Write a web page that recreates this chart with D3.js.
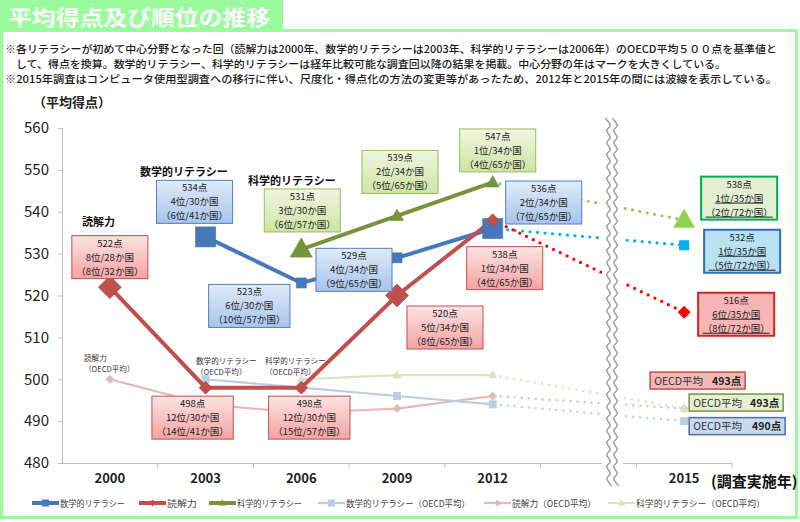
<!DOCTYPE html>
<html>
<head>
<meta charset="utf-8">
<script src="https://cdn.jsdelivr.net/npm/d3@7"></script>
<style>
body { margin: 0; background: #fff; }
svg { display: block; }
text { font-family: "Noto Sans CJK JP", "Noto Sans", sans-serif; }
</style>
</head>
<body>
<div id="vis"></div>
<script>
const width = 800;
const height = 522;

// categories on the x axis ("gap" is the empty slot behind the wavy break)
const categories = ["2000", "2003", "2006", "2009", "2012", "gap", "2015"];
const years = ["2000", "2003", "2006", "2009", "2012", "2015"];
const yTicks = [480, 490, 500, 510, 520, 530, 540, 550, 560];

const readingScores = [522, 498, 498, 520, 538, 516];
const mathScores = [null, 534, 523, 529, 536, 532];
const scienceScores = [null, null, 531, 539, 547, 538];

const readingOecd = [500, 494, 492, 493, 496, 493];
const mathOecd = [null, 500, 498, 496, 494, 490];
const scienceOecd = [null, null, 500, 501, 501, 493];

const readingRanks = ["8位/28か国", "12位/30か国", "12位/30か国", "5位/34か国", "1位/34か国", "6位/35か国"];
const readingRanksAll = ["（8位/32か国）", "（14位/41か国）", "（15位/57か国）", "（8位/65か国）", "（4位/65か国）", "（8位/72か国）"];
const mathRanks = [null, "4位/30か国", "6位/30か国", "4位/34か国", "2位/34か国", "1位/35か国"];
const mathRanksAll = [null, "（6位/41か国）", "（10位/57か国）", "（9位/65か国）", "（7位/65か国）", "（5位/72か国）"];
const scienceRanks = [null, null, "3位/30か国", "2位/34か国", "1位/34か国", "1位/35か国"];
const scienceRanksAll = [null, null, "（6位/57か国）", "（5位/65か国）", "（4位/65か国）", "（2位/72か国）"];

const notes = [
    "※各リテラシーが初めて中心分野となった回（読解力は2000年、数学的リテラシーは2003年、科学的リテラシーは2006年）のOECD平均５００点を基準値と",
    "して、得点を換算。数学的リテラシー、科学的リテラシーは経年比較可能な調査回以降の結果を掲載。中心分野の年はマークを大きくしている。",
    "※2015年調査はコンピュータ使用型調査への移行に伴い、尺度化・得点化の方法の変更等があったため、2012年と2015年の間には波線を表示している。"
];

const series = [
    { key: "math", name: "数学的リテラシー", scores: mathScores, ranks: mathRanks, ranksAll: mathRanksAll,
      focal: ["2003", "2012"], shape: "square", color: "#4679b9", color2015: "#00b0f0",
      fill: ["#e1ebf8", "#a7c4ec"], stroke: "#4f81bd", fill2015: "#b8e2f2", stroke2015: "#2e6fb5" },
    { key: "science", name: "科学的リテラシー", scores: scienceScores, ranks: scienceRanks, ranksAll: scienceRanksAll,
      focal: ["2006", "2015"], shape: "triangle", color: "#77933c", color2015: "#92d050",
      fill: ["#f0f6e1", "#cfe3a4"], stroke: "#9bbb59", fill2015: "#e3efd2", stroke2015: "#00b050" },
    { key: "reading", name: "読解力", scores: readingScores, ranks: readingRanks, ranksAll: readingRanksAll,
      focal: ["2000", "2009"], shape: "diamond", color: "#c0504d", color2015: "#ff0000",
      fill: ["#fde3e3", "#f3a3a3"], stroke: "#c0504d", fill2015: "#f6b6b6", stroke2015: "#e0201c" }
];

const oecdSeries = [
    { key: "reading", name: "読解力（OECD平均）", scores: readingOecd, shape: "diamond", color: "#e6b9b8",
      boxFill: "#f2b8b8", boxStroke: "#c0504d" },
    { key: "math", name: "数学的リテラシー（OECD平均）", scores: mathOecd, shape: "square", color: "#b9cde5",
      boxFill: "#c9daf0", boxStroke: "#4a6fa5" },
    { key: "science", name: "科学的リテラシー（OECD平均）", scores: scienceOecd, shape: "triangle", color: "#d7e4bd",
      boxFill: "#e6f0d3", boxStroke: "#77933c" }
];

// annotation box offsets from their point
const boxOffsets = {
    reading: { "2000": [0, -30], "2003": [-13, 30], "2006": [8, 30], "2009": [48, 32], "2012": [12, 48], "2015": [52, 2] },
    math: { "2003": [-11, -35], "2006": [-52, 23], "2009": [-43, 12], "2012": [51, -26], "2015": [58, 6] },
    science: { "2006": [1, -39], "2009": [3, -44], "2012": [5, -32], "2015": [55, -22] }
};
// [dx, dy, width] of the OECD 2015 boxes
const oecdBoxLayout = { reading: [13.5, -28, 95], science: [52, -6, 94], math: [53, 5, 96] };

const svg = d3.select("#vis").append("svg")
    .attr("width", width)
    .attr("height", height);

const defs = svg.append("defs");

// title banner and frame
svg.append("rect").attr("x", 1.5).attr("y", 30.5).attr("width", 795).attr("height", 487)
    .attr("fill", "none").attr("stroke", "#9cfb9c").attr("stroke-width", 3);
svg.append("rect").attr("x", 0).attr("y", 0).attr("width", 283).attr("height", 31).attr("fill", "#99fb9c");
svg.append("text").attr("x", 8).attr("y", 25)
    .attr("fill", "#fff").attr("font-size", 21).attr("font-weight", "bold")
    .attr("textLength", 262).attr("lengthAdjust", "spacingAndGlyphs")
    .text("平均得点及び順位の推移");

// notes
const noteX = [5, 16, 5];
const noteY = [53, 68, 83];
const noteLen = [772, 710, 772];
notes.forEach((t, i) => {
    svg.append("text").attr("x", noteX[i]).attr("y", noteY[i])
        .attr("font-size", 10.5).attr("fill", "#1a1a1a").attr("font-weight", 500)
        .attr("textLength", noteLen[i]).attr("lengthAdjust", "spacingAndGlyphs")
        .text(t);
});

svg.append("text").attr("x", 33).attr("y", 107)
    .attr("font-size", 13).attr("font-weight", "bold").attr("fill", "#222")
    .text("（平均得点）");

const yScale = d3.scaleLinear().domain([480, 560]).range([463, 128]);
const xScale = d3.scaleBand().domain(categories).range([62, 732]);
const cx = yr => xScale(yr) + xScale.bandwidth() / 2;

// y axis
const yAxis = svg.append("g")
    .attr("transform", "translate(62,0)")
    .call(d3.axisLeft(yScale).tickValues(yTicks).tickSize(4).tickPadding(9).tickFormat(d3.format("d")));
yAxis.select(".domain").attr("stroke", "#bfbfbf");
yAxis.selectAll(".tick line").attr("stroke", "#bfbfbf");
yAxis.selectAll(".tick text").attr("font-family", "Liberation Sans, Arial, sans-serif")
    .attr("font-size", 15).attr("fill", "#222");

// x axis (drawn by hand because of the break)
const xAxis = svg.append("g");
xAxis.append("line").attr("x1", 62).attr("x2", 732).attr("y1", 463.5).attr("y2", 463.5).attr("stroke", "#bfbfbf");
categories.forEach(c => {
    const x0 = xScale(c) + xScale.bandwidth();
    xAxis.append("line").attr("x1", x0).attr("x2", x0).attr("y1", 463).attr("y2", 468).attr("stroke", "#bfbfbf");
});
years.forEach(yr => {
    xAxis.append("text").attr("x", cx(yr)).attr("y", 483)
        .attr("text-anchor", "middle").attr("font-size", 13).attr("font-weight", "bold")
        .attr("fill", "#222").attr("font-family", "Liberation Sans, Arial, sans-serif")
        .text(yr);
});
svg.append("text").attr("x", 711).attr("y", 487)
    .attr("font-size", 15).attr("font-weight", "bold").attr("fill", "#111")
    .text("(調査実施年)");

function markerPath(shape, s) {
    const h = s / 2;
    if (shape === "square") return `M${-h},${-h}H${h}V${h}H${-h}Z`;
    if (shape === "diamond") return `M0,${-h}L${h},0L0,${h}L${-h},0Z`;
    const th = s * 0.87;
    return `M0,${-th * 0.6}L${h},${th * 0.4}L${-h},${th * 0.4}Z`;
}
const bigSize = { square: 20, diamond: 23, triangle: 22 };
const smallSize = { square: 10, diamond: 13, triangle: 13 };

const lineGen = d3.line()
    .defined(d => d.v != null)
    .x(d => cx(d.year))
    .y(d => yScale(d.v));

const toPoints = arr => years.map((yr, i) => ({ year: yr, v: arr[i] }));

// OECD average lines
const oecdLayer = svg.append("g");
oecdSeries.forEach(s => {
    const pts = toPoints(s.scores);
    oecdLayer.append("path").datum(pts.slice(0, 5))
        .attr("d", lineGen).attr("fill", "none").attr("stroke", s.color).attr("stroke-width", 2.2);
    oecdLayer.append("path").datum(pts.slice(4))
        .attr("d", lineGen).attr("fill", "none").attr("stroke", s.color).attr("stroke-width", 2.2)
        .attr("stroke-dasharray", "2,5");
    oecdLayer.selectAll(null).data(pts.filter(d => d.v != null)).enter().append("path")
        .attr("transform", d => `translate(${cx(d.year)},${yScale(d.v)})`)
        .attr("d", markerPath(s.shape, s.shape === "square" ? 8 : 9))
        .attr("fill", s.color);
});

// main series
const mainLayer = svg.append("g");
series.forEach(s => {
    const pts = toPoints(s.scores);
    mainLayer.append("path").datum(pts.slice(0, 5))
        .attr("d", lineGen).attr("fill", "none").attr("stroke", s.color).attr("stroke-width", 4);
    mainLayer.append("path").datum(pts.slice(4))
        .attr("d", lineGen).attr("fill", "none").attr("stroke", s.color2015).attr("stroke-width", 3.2)
        .attr("stroke-linecap", "round").attr("stroke-dasharray", "0,7.5");
});
series.forEach(s => {
    const pts = toPoints(s.scores).filter(d => d.v != null);
    mainLayer.selectAll(null).data(pts).enter().append("path")
        .attr("transform", d => `translate(${cx(d.year)},${yScale(d.v)})`)
        .attr("d", d => markerPath(s.shape, s.focal.includes(d.year) ? bigSize[s.shape] : smallSize[s.shape]))
        .attr("fill", d => d.year === "2015" ? s.color2015 : s.color)
        .attr("stroke", d => d.year === "2015" ? "none" : d3.color(s.color).darker(0.3))
        .attr("stroke-width", 0.6);
});

// wavy break
svg.append("rect").attr("x", 602).attr("y", 116).attr("width", 21).attr("height", 374).attr("fill", "#fff");
const wave = d3.line().curve(d3.curveBasis);
[608.5, 615.5].forEach(x0 => {
    const pts = [];
    for (let yy = 118; yy <= 488; yy += 4) pts.push([x0 + ((Math.round((yy - 118) / 4) % 3) - 1) * 3.2, yy]);
    svg.append("path").attr("d", wave(pts)).attr("fill", "none").attr("stroke", "#9a9a9a").attr("stroke-width", 1.4);
});

// annotation boxes
const boxFont = "Liberation Sans, Noto Sans CJK JP, sans-serif";
const boxLayer = svg.append("g");
series.forEach(s => {
    const grad = defs.append("linearGradient").attr("id", "g-" + s.key)
        .attr("x1", 0).attr("y1", 0).attr("x2", 0).attr("y2", 1);
    grad.append("stop").attr("offset", "0%").attr("stop-color", s.fill[0]);
    grad.append("stop").attr("offset", "100%").attr("stop-color", s.fill[1]);

    years.forEach((yr, i) => {
        if (s.scores[i] == null) return;
        const off = boxOffsets[s.key][yr];
        const bx = cx(yr) + off[0];
        const by = yScale(s.scores[i]) + off[1];
        const is2015 = yr === "2015";
        const g = boxLayer.append("g").attr("transform", `translate(${bx},${by})`);
        const rect = g.append("rect");
        const lines = [s.scores[i] + "点", s.ranks[i], s.ranksAll[i]];
        const tx = g.append("text").attr("text-anchor", "middle").attr("font-size", 9.5)
            .attr("fill", "#222").attr("font-family", boxFont);
        let maxW = 0;
        lines.forEach((t, j) => {
            const ts = tx.append("tspan").attr("x", 0).attr("y", (j - 1) * 14 + 3.5).text(t);
            if (is2015 && j > 0) ts.attr("text-decoration", "underline");
            maxW = Math.max(maxW, ts.node().getComputedTextLength());
        });
        const w = maxW + 9, h = 43;
        rect.attr("x", -w / 2).attr("y", -h / 2).attr("width", w).attr("height", h)
            .attr("fill", is2015 ? s.fill2015 : `url(#g-${s.key})`)
            .attr("stroke", is2015 ? s.stroke2015 : s.stroke)
            .attr("stroke-width", is2015 ? 2 : 1);
    });
});

// OECD 2015 boxes
oecdSeries.forEach(s => {
    const v = s.scores[5];
    const lay = oecdBoxLayout[s.key];
    const w = lay[2];
    const g = boxLayer.append("g").attr("transform", `translate(${cx("2015") + lay[0]},${yScale(v) + lay[1]})`);
    g.append("rect").attr("x", -w / 2).attr("y", -8.5).attr("width", w).attr("height", 17)
        .attr("fill", s.boxFill).attr("stroke", s.boxStroke).attr("stroke-width", 1.5);
    const t = g.append("text").attr("y", 4).attr("font-size", 10.5).attr("fill", "#333")
        .attr("font-family", boxFont);
    t.append("tspan").attr("x", -w / 2 + 4).text("OECD平均");
    t.append("tspan").attr("x", w / 2 - 4).attr("text-anchor", "end")
        .attr("font-weight", "bold").attr("fill", "#222").text(v + "点");
});

// series name labels
const nameLabels = [
    { text: "読解力", x: 82, y: 226 },
    { text: "数学的リテラシー", x: 140, y: 176 },
    { text: "科学的リテラシー", x: 248, y: 185 }
];
nameLabels.forEach(d => {
    svg.append("text").attr("x", d.x).attr("y", d.y)
        .attr("font-size", 11).attr("font-weight", "bold").attr("fill", "#111").text(d.text);
});

const oecdLabels = [
    { text: ["読解力", "（OECD平均）"], x: 84, y: 361 },
    { text: ["数学的リテラシー", "（OECD平均）"], x: 196, y: 364 },
    { text: ["科学的リテラシー", "（OECD平均）"], x: 265, y: 364 }
];
oecdLabels.forEach(d => {
    const t = svg.append("text").attr("font-size", 7.6).attr("fill", "#333");
    d.text.forEach((line, j) => {
        t.append("tspan").attr("x", d.x).attr("y", d.y + j * 11).text(line);
    });
});

// legend
const legendItems = [
    { s: series[0], name: "数学的リテラシー", x: 32, tw: 65, main: true },
    { s: series[2], name: "読解力", x: 139, tw: 30, main: true },
    { s: series[1], name: "科学的リテラシー", x: 209, tw: 65, main: true },
    { s: oecdSeries[1], name: "数学的リテラシー（OECD平均）", x: 318, tw: 124, main: false },
    { s: oecdSeries[0], name: "読解力（OECD平均）", x: 484, tw: 84, main: false },
    { s: oecdSeries[2], name: "科学的リテラシー（OECD平均）", x: 608, tw: 129, main: false }
];
const legend = svg.append("g").attr("transform", "translate(0,503)");
legendItems.forEach(d => {
    const g = legend.append("g").attr("transform", `translate(${d.x},0)`);
    g.append("line").attr("x1", 0).attr("x2", 27).attr("y1", 0).attr("y2", 0)
        .attr("stroke", d.s.color).attr("stroke-width", d.main ? 4 : 2.2);
    g.append("path").attr("transform", "translate(13.5,0)")
        .attr("d", markerPath(d.s.shape, 7)).attr("fill", d.s.color);
    g.append("text").attr("x", 28).attr("y", 3.5).attr("font-size", 9).attr("fill", "#444")
        .attr("textLength", d.tw).attr("lengthAdjust", "spacingAndGlyphs").text(d.name);
});
</script>
</body>
</html>
